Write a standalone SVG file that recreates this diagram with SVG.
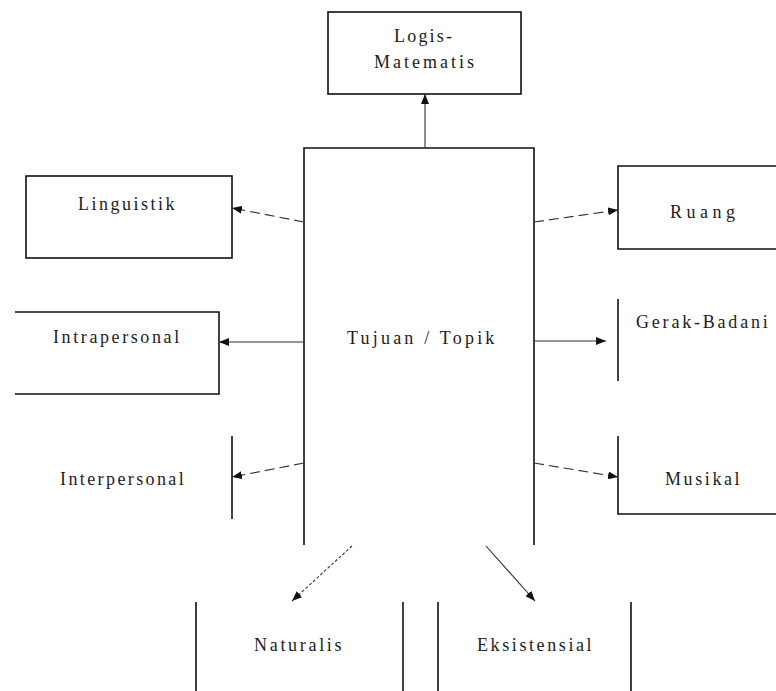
<svg xmlns="http://www.w3.org/2000/svg" width="776" height="691" viewBox="0 0 776 691">
  <style>
    .frame { fill: none; stroke: #111; stroke-width: 1.6; }
    .link { fill: none; stroke: #333; stroke-width: 1.1; marker-end: url(#tip); }
    .dash { stroke-dasharray: 10 5; }
    .dot { stroke-dasharray: 3 2; }
    text { font-family: "Liberation Serif", "Times New Roman", serif; font-size: 18px; fill: #1c1c1c; }
  </style>
  <defs>
    <marker id="tip" viewBox="0 0 10 8" refX="10" refY="4" markerWidth="10" markerHeight="8" markerUnits="userSpaceOnUse" orient="auto">
      <path d="M0,0 L10,4 L0,8 Z" fill="#111"/>
    </marker>
  </defs>
  <rect width="776" height="691" fill="#fff"/>

  <!-- central topic: open-bottomed frame -->
  <g id="topik">
    <path class="frame" d="M304,545 V148 H534 V545"/>
    <text x="347" y="344" letter-spacing="3.2">Tujuan / Topik</text>
  </g>

  <g id="logis-matematis">
    <rect class="frame" x="328" y="12" width="193" height="82"/>
    <text x="394" y="42" letter-spacing="2.2">Logis-</text>
    <text x="374" y="68" letter-spacing="3">Matematis</text>
  </g>

  <g id="linguistik">
    <rect class="frame" x="26" y="176" width="206" height="82"/>
    <text x="78" y="210" letter-spacing="2.5">Linguistik</text>
  </g>

  <g id="intrapersonal">
    <path class="frame" d="M15,312 H219 V394 H15"/>
    <text x="53" y="343" letter-spacing="2.6">Intrapersonal</text>
  </g>

  <g id="interpersonal">
    <path class="frame" d="M232,436 V519"/>
    <text x="60" y="485" letter-spacing="2.4">Interpersonal</text>
  </g>

  <g id="ruang">
    <path class="frame" d="M778,166 H618 V249 H778"/>
    <text x="670" y="218" letter-spacing="4.5">Ruang</text>
  </g>

  <g id="gerak-badani">
    <path class="frame" d="M618,299 V381"/>
    <text x="636" y="328" letter-spacing="2.8">Gerak-Badani</text>
  </g>

  <g id="musikal">
    <path class="frame" d="M618,436 V514 H778"/>
    <text x="665" y="485" letter-spacing="2.6">Musikal</text>
  </g>

  <g id="naturalis">
    <path class="frame" d="M196,602 V691 M403,602 V691"/>
    <text x="254" y="651" letter-spacing="2.7">Naturalis</text>
  </g>

  <g id="eksistensial">
    <path class="frame" d="M438,602 V691 M631,602 V691"/>
    <text x="477" y="651" letter-spacing="2.6">Eksistensial</text>
  </g>

  <!-- connectors from the central topic -->
  <g id="connectors">
    <path class="link" d="M425,148 V94"/>
    <path class="link dash" d="M304,222 L232,208"/>
    <path class="link" d="M304,342 H219"/>
    <path class="link dash" d="M304,463 L232,477"/>
    <path class="link dash" d="M534,222 L618,210"/>
    <path class="link" d="M534,341 H606"/>
    <path class="link dash" d="M534,463 L618,477"/>
    <path class="link dot" d="M352,546 L292,601"/>
    <path class="link" d="M486,546 L535,601"/>
  </g>
</svg>
